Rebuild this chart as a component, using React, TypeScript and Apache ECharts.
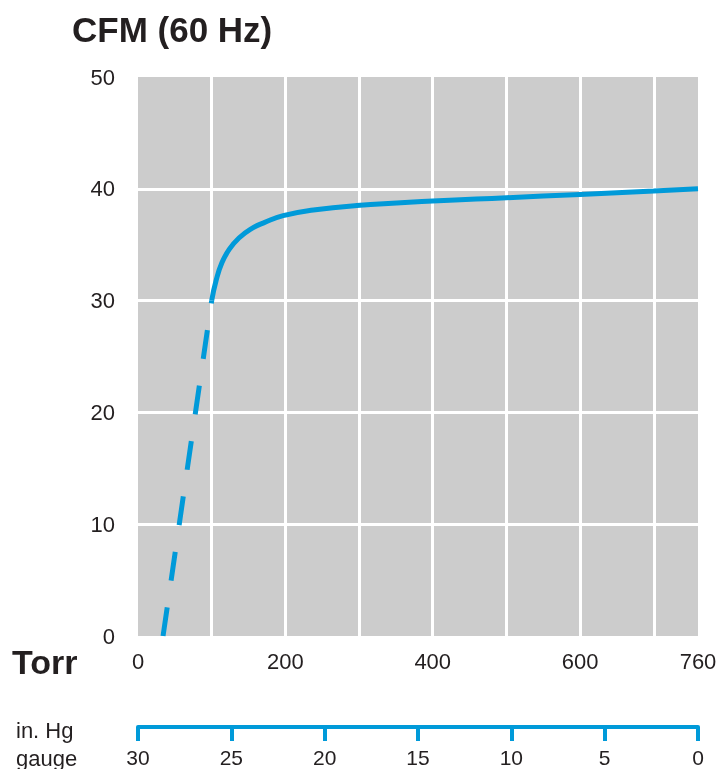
import React, { useEffect, useRef } from "react";
import * as echarts from "echarts";

const torrDashed = [34, 100];
const cfmDashed = [0, 30];

const torrSolid = [100, 106, 114, 124, 137, 153, 172, 197, 238, 297, 400, 500, 600, 700, 760];
const cfmSolid = [30, 31.8, 33.4, 34.6, 35.6, 36.4, 37.0, 37.6, 38.1, 38.5, 38.9, 39.2, 39.5, 39.8, 40.0];

const torrLabels = [0, 200, 400, 600, 760];
const hgTicks = [30, 25, 20, 15, 10, 5, 0];

const BLUE = "#009ad9";
const INK = "#231f20";
const FONT = "Liberation Sans";

export default function App() {
  const ref = useRef<HTMLDivElement>(null);
  useEffect(() => {
    if (!ref.current) return;
    const chart = echarts.init(ref.current, undefined, { renderer: "svg" });
    chart.setOption({
      animation: false,
      textStyle: { fontFamily: FONT },
      title: {
        text: "CFM (60 Hz)",
        left: 67,
        top: 7,
        textStyle: { fontSize: 35, fontWeight: "bold", color: INK, fontFamily: FONT },
      },
      graphic: [
        { type: "text", left: 12, top: 645, style: { text: "Torr", fontSize: 34, fontWeight: "bold", fill: INK, fontFamily: FONT } },
        { type: "text", left: 16, top: 719, style: { text: "in. Hg", fontSize: 22, fill: INK, fontFamily: FONT } },
        { type: "text", left: 16, top: 747, style: { text: "gauge", fontSize: 22, fill: INK, fontFamily: FONT } },
      ],
      grid: {
        left: 138,
        top: 77,
        right: 22,
        bottom: 133,
        show: true,
        backgroundColor: "#cccccc",
        borderWidth: 0,
      },
      xAxis: [
        {
          type: "value",
          min: 0,
          max: 760,
          interval: 100,
          axisLine: { show: false },
          axisTick: { show: false },
          splitLine: { show: true, showMinLine: false, showMaxLine: false, lineStyle: { color: "#ffffff", width: 3 } },
          axisLabel: {
            fontSize: 22,
            color: INK,
            margin: 14,
            fontFamily: FONT,
            formatter: (v: number) => (torrLabels.indexOf(v) >= 0 ? String(v) : ""),
          },
        },
        {
          type: "value",
          position: "bottom",
          offset: 91,
          min: 0,
          max: 30,
          interval: 5,
          inverse: true,
          axisLine: { show: true, lineStyle: { color: BLUE, width: 4 } },
          axisTick: { show: true, length: 14, lineStyle: { color: BLUE, width: 4 } },
          splitLine: { show: false },
          axisLabel: {
            fontSize: 21,
            color: INK,
            margin: 20,
            fontFamily: FONT,
            formatter: (v: number) => (hgTicks.indexOf(v) >= 0 ? String(v) : ""),
          },
        },
      ],
      yAxis: {
        type: "value",
        min: 0,
        max: 50,
        interval: 10,
        axisLine: { show: false },
        axisTick: { show: false },
        splitLine: { show: true, showMinLine: false, showMaxLine: false, lineStyle: { color: "#ffffff", width: 3 } },
        axisLabel: { fontSize: 22, color: INK, margin: 23, fontFamily: FONT },
      },
      series: [
        {
          type: "line",
          xAxisIndex: 0,
          data: torrDashed.map((t, i) => [t, cfmDashed[i]]),
          showSymbol: false,
          lineStyle: { color: BLUE, width: 5, type: [29, 27] },
        },
        {
          type: "line",
          xAxisIndex: 0,
          data: torrSolid.map((t, i) => [t, cfmSolid[i]]),
          showSymbol: false,
          smooth: 0.5,
          lineStyle: { color: BLUE, width: 5 },
        },
      ],
    });
    return () => chart.dispose();
  }, []);
  return <div ref={ref} style={{ position: "fixed", left: 0, top: 0, width: 720, height: 769 }} />;
}
